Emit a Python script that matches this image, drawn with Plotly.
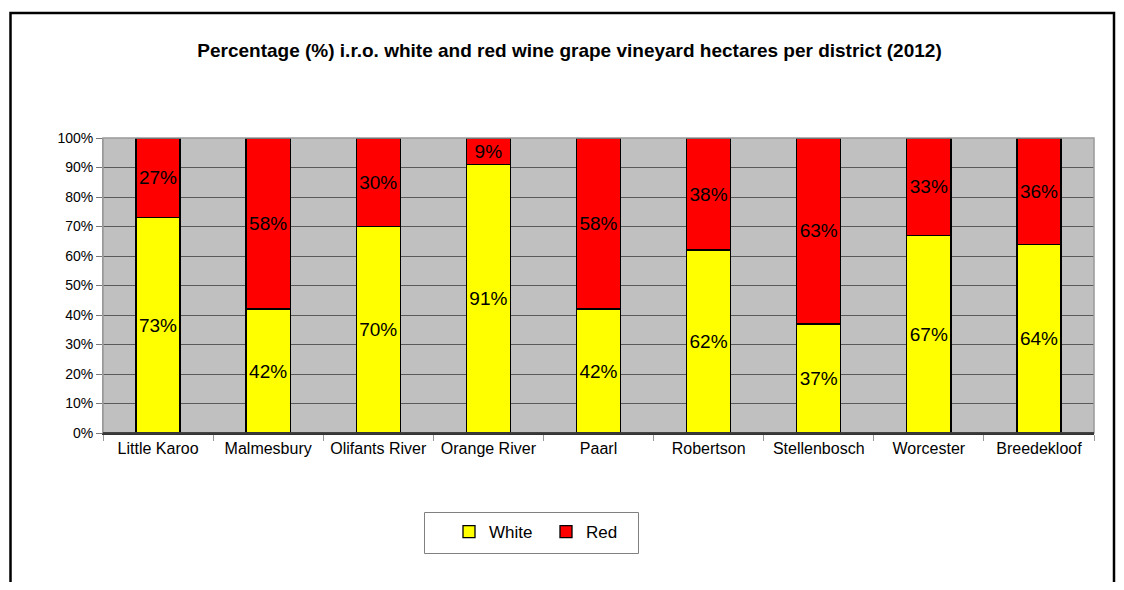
import plotly.graph_objects as go

districts = ["Little Karoo", "Malmesbury", "Olifants River", "Orange River", "Paarl",
             "Robertson", "Stellenbosch", "Worcester", "Breedekloof"]
white = [73, 42, 70, 91, 42, 62, 37, 67, 64]
red = [27, 58, 30, 9, 58, 38, 63, 33, 36]
y_ticks = list(range(0, 101, 10))
y_tick_labels = [f"{v}%" for v in y_ticks]

FONT = "Arial, Liberation Sans, sans-serif"

OFF = 8  # default page body margin
W, H = 1124 - 2 * OFF, 590 - 2 * OFF
# screen-space layout targets
PL, PR, PT, PB = 103, 1094, 138, 433
ml, mr, mt, mb = PL - OFF, W - (PR - OFF), PT - OFF, H - (PB - OFF)
pw, ph = W - ml - mr, H - mt - mb


def px_x(p):  # screen px -> paper x
    return (p - OFF - ml) / pw


def px_y(p):  # screen px -> paper y
    return (H - mb - (p - OFF)) / ph


fig = go.Figure()
fig.add_trace(go.Bar(
    x=districts, y=white, name="White",
    marker=dict(color="#FFFF00", line=dict(color="black", width=1.3)),
    text=[f"{v}%" for v in white], textposition="inside", insidetextanchor="middle",
    textangle=0,
    textfont=dict(family=FONT, size=19, color="black"), constraintext="none",
    width=0.4,
))
fig.add_trace(go.Bar(
    x=districts, y=red, name="Red",
    marker=dict(color="#FF0000", line=dict(color="black", width=1.3)),
    text=[f"{v}%" for v in red], textposition="inside", insidetextanchor="middle",
    textangle=0,
    textfont=dict(family=FONT, size=19, color="black"), constraintext="none",
    width=0.4,
))

fig.update_layout(
    width=W, height=H,
    barmode="stack",
    margin=dict(l=ml, r=mr, t=mt, b=mb, pad=0, autoexpand=False),
    paper_bgcolor="white",
    plot_bgcolor="#C0C0C0",
    font=dict(family=FONT, size=15, color="black"),
    title=dict(
        text="<b>Percentage (%) i.r.o. white and red wine grape vineyard hectares per district (2012)</b>",
        x=(569.5 - OFF) / W, xanchor="center", y=1 - (50 - OFF) / H, yanchor="middle",
        font=dict(family=FONT, size=19, color="black"),
    ),
    showlegend=True,
    legend=dict(
        orientation="h", x=px_x(449), xanchor="left",
        y=px_y(532), yanchor="middle",
        bgcolor="rgba(0,0,0,0)", borderwidth=0,
        font=dict(family=FONT, size=17, color="black"),
        itemwidth=30, entrywidth=52,
        traceorder="normal",
    ),
    xaxis=dict(
        showgrid=False, ticks="outside", tickson="boundaries", ticklen=6,
        tickcolor="#999999", showline=True, linecolor="#333333", linewidth=1.5,
        tickfont=dict(family=FONT, size=16, color="black"),
    ),
    yaxis=dict(
        range=[0, 100], tickvals=y_ticks, ticktext=y_tick_labels,
        showgrid=True, gridcolor="#5a5a5a", gridwidth=1,
        ticks="outside", ticklen=6, tickcolor="#777777",
        showline=True, linecolor="#999999", linewidth=1,
        tickfont=dict(family=FONT, size=14, color="black"),
        zeroline=False,
    ),
)

# plot area border (light gray top/right) and dark baseline
fig.add_shape(type="rect", xref="paper", yref="paper", x0=0, x1=1, y0=0, y1=1,
              line=dict(color="#999999", width=1.5), layer="above")
fig.add_shape(type="line", xref="paper", yref="paper", x0=0, x1=1, y0=0, y1=0,
              line=dict(color="#222222", width=1.5), layer="above")
# legend frame
fig.add_shape(type="rect", xref="paper", yref="paper",
              x0=px_x(424.5), x1=px_x(638.5), y0=px_y(553.5), y1=px_y(512.5),
              line=dict(color="#808080", width=1), fillcolor="white", layer="below")
# outer chart border
fig.add_shape(type="rect", xref="paper", yref="paper",
              x0=px_x(10.5), x1=px_x(1114), y0=px_y(650), y1=px_y(13),
              line=dict(color="black", width=2.5))

fig.write_html("out.html")
